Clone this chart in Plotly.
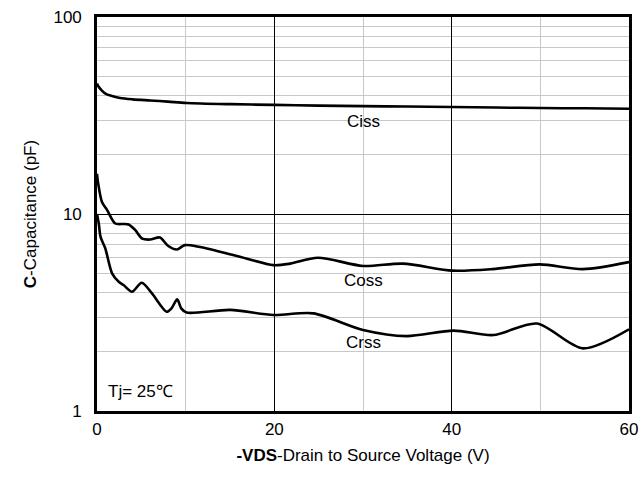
import math
import plotly.graph_objects as go

# Data (V, pF)
ciss_v = [0, 0.15, 0.5, 0.9, 1.6, 2.6, 4, 6, 8, 10.1, 15, 19.9, 25, 30, 35, 40, 45, 50, 55, 60]
ciss_c = [46, 44.5, 42.5, 41, 39.8, 38.8, 38.2, 37.7, 37.2, 36.6, 36.1, 35.8, 35.5, 35.3, 35.1, 34.9, 34.7, 34.5, 34.4, 34.2]

coss_v = [0, 0.1, 0.56, 1.13, 2.06, 3.0, 3.56, 4.3, 5.1, 6.0, 7.1, 8.0, 9.0, 9.9, 11.6, 16.1, 19.9, 21.8, 24.9, 30, 34.5, 40.1, 44.6, 49.9, 54.8, 60]
coss_c = [16, 14.6, 11.5, 10.5, 8.95, 8.9, 8.85, 8.3, 7.5, 7.42, 7.6, 6.9, 6.6, 6.95, 6.8, 6.07, 5.5, 5.6, 6.0, 5.45, 5.6, 5.16, 5.25, 5.55, 5.25, 5.7]

crss_v = [0, 0.2, 0.4, 0.93, 1.7, 2.45, 3.0, 3.95, 5.05, 6.2, 7.85, 8.4, 9.05, 9.5, 10.1, 15.0, 19.9, 24.4, 30, 34.9, 40.2, 44.7, 49.6, 54.8, 60]
crss_c = [10, 8.95, 7.65, 6.7, 5.0, 4.53, 4.36, 4.03, 4.48, 3.95, 3.19, 3.32, 3.69, 3.32, 3.16, 3.26, 3.07, 3.13, 2.58, 2.4, 2.56, 2.43, 2.78, 2.08, 2.6]

x_ticks = [0, 20, 40, 60]
y_ticks = [1, 10, 100]
labels = [("Ciss", 30, 29.4), ("Coss", 30, 4.62), ("Crss", 30, 2.22)]

FONT = "Liberation Sans, Arial, sans-serif"

fig = go.Figure()
for v, c, n in [(ciss_v, ciss_c, "Ciss"), (coss_v, coss_c, "Coss"), (crss_v, crss_c, "Crss")]:
    fig.add_trace(go.Scatter(x=v, y=c, mode="lines", name=n,
                             line=dict(color="black", width=2.6, shape="spline", smoothing=0.8)))

annotations = [dict(x=x, y=math.log10(y), text=t, showarrow=False,
                    font=dict(size=17, color="black", family=FONT),
                    xanchor="center", yanchor="middle") for t, x, y in labels]
annotations.append(dict(x=1.0, y=math.log10(1.25), text="Tj= 25\u2103", showarrow=False,
                        font=dict(size=17, color="black", family=FONT),
                        xanchor="left", yanchor="middle"))

fig.update_layout(
    width=640, height=479,
    margin=dict(l=97, r=11, t=17, b=68, autoexpand=False),
    paper_bgcolor="white", plot_bgcolor="white",
    showlegend=False,
    font=dict(family=FONT, color="black", size=17),
    annotations=annotations,
    xaxis=dict(
        range=[0, 60], tickvals=x_ticks, ticktext=[str(t) for t in x_ticks],
        showgrid=True, gridcolor="black", gridwidth=1,
        minor=dict(dtick=10, showgrid=True, gridcolor="#c8c8c8", gridwidth=1.2),
        showline=True, linecolor="black", linewidth=2.6, mirror=True,
        ticks="outside", ticklen=1, tickcolor="rgba(0,0,0,0)",
        ticklabeloverflow="allow",
        zeroline=False, automargin=False,
        tickfont=dict(size=17, family=FONT),
        title=dict(text="<b>-VDS</b>-Drain to Source Voltage (V)", font=dict(size=17, family=FONT), standoff=11),
    ),
    yaxis=dict(
        type="log", range=[0, 2], tickvals=y_ticks, ticktext=[str(t) for t in y_ticks],
        showgrid=True, gridcolor="black", gridwidth=1,
        minor=dict(dtick="D1", showgrid=True, gridcolor="#c8c8c8", gridwidth=1.2),
        showline=True, linecolor="black", linewidth=2.6, mirror=True,
        ticks="outside", ticklen=9, tickcolor="rgba(0,0,0,0)",
        ticklabeloverflow="allow",
        zeroline=False, automargin=False,
        tickfont=dict(size=17, family=FONT),
        title=dict(text="<b>C</b>-Capacitance (pF)", font=dict(size=17, family=FONT), standoff=13),
    ),
)

# remove the page's default body margin so the 640x479 figure fills the window exactly
fig.write_html("out.html", config={"displayModeBar": False},
               post_script="document.body.style.margin='0';document.body.style.overflow='hidden';")
